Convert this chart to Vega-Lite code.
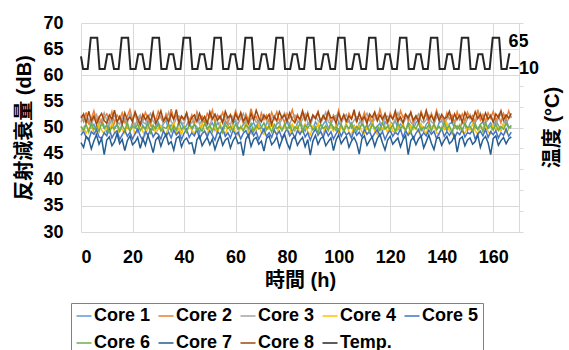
{
"$schema":"https://vega.github.io/schema/vega-lite/v6.json",
"autosize":"none",
"width":438,"height":209,
"padding":{"left":81,"top":23,"right":50,"bottom":118},
"config":{"font":"'Liberation Sans', 'Noto Sans CJK JP', sans-serif","view":{"stroke":null},"axis":{"gridColor":"#d9d9d9","gridWidth":1,"labelColor":"#000","titleColor":"#000","labelFontWeight":"bold","titleFontWeight":"bold","labelFontSize":18,"titleFontSize":20}},
"datasets":{
"cores":[
{"t":0,"a":50.1,"b":52.3,"c":51.0,"d":49.2,"e":48.5,"f":50.2,"g":47.1,"h":51.8},
{"t":1,"a":49.6,"b":51.1,"c":52.2,"d":50.1,"e":49.3,"f":49.4,"g":46.2,"h":52.6},
{"t":2,"a":50.8,"b":52.9,"c":50.7,"d":48.9,"e":48.1,"f":50.6,"g":48.3,"h":50.9},
{"t":3,"a":51.2,"b":50.8,"c":51.6,"d":49.8,"e":47.6,"f":49.1,"g":47.8,"h":53.1},
{"t":4,"a":49.9,"b":51.7,"c":50.3,"d":50.4,"e":49.2,"f":50.8,"g":45.9,"h":51.2},
{"t":5,"a":50.6,"b":53.2,"c":51.9,"d":49.0,"e":48.7,"f":49.6,"g":47.4,"h":52.2},
{"t":6,"a":49.4,"b":51.4,"c":52.5,"d":48.6,"e":49.6,"f":50.3,"g":48.6,"h":50.6},
{"t":7,"a":50.9,"b":52.1,"c":50.8,"d":50.6,"e":48.2,"f":49.2,"g":46.8,"h":51.9},
{"t":8,"a":51.5,"b":50.6,"c":51.2,"d":49.5,"e":47.9,"f":50.9,"g":47.9,"h":52.7},
{"t":9,"a":50.2,"b":51.9,"c":52.8,"d":48.8,"e":49.0,"f":49.8,"g":44.8,"h":51.3},
{"t":10,"a":49.1,"b":52.6,"c":51.4,"d":50.2,"e":48.4,"f":50.5,"g":47.6,"h":50.8},
{"t":11,"a":50.7,"b":51.3,"c":50.5,"d":49.3,"e":49.8,"f":49.0,"g":48.2,"h":52.4},
{"t":12,"a":51.4,"b":53.0,"c":51.8,"d":50.8,"e":48.0,"f":50.1,"g":46.5,"h":51.6},
{"t":13,"a":49.8,"b":50.9,"c":52.3,"d":49.1,"e":48.9,"f":49.7,"g":47.3,"h":53.3},
{"t":14,"a":50.5,"b":52.4,"c":51.1,"d":48.7,"e":49.4,"f":50.7,"g":48.8,"h":51.0},
{"t":15,"a":49.3,"b":51.6,"c":50.6,"d":50.0,"e":47.7,"f":49.3,"g":46.9,"h":52.1},
{"t":16,"a":50.8,"b":52.8,"c":52.0,"d":49.6,"e":48.6,"f":50.4,"g":47.7,"h":50.7},
{"t":17,"a":51.6,"b":51.0,"c":51.5,"d":48.9,"e":49.5,"f":49.5,"g":45.6,"h":52.8},
{"t":18,"a":50.0,"b":52.2,"c":50.9,"d":50.5,"e":48.3,"f":50.9,"g":47.5,"h":51.4},
{"t":19,"a":49.5,"b":53.4,"c":52.6,"d":49.4,"e":49.1,"f":49.2,"g":48.4,"h":52.0},
{"t":20,"a":50.9,"b":51.5,"c":51.3,"d":50.3,"e":47.8,"f":50.3,"g":46.7,"h":51.1},
{"t":21,"a":50.3,"b":52.7,"c":50.4,"d":48.8,"e":48.8,"f":49.9,"g":47.2,"h":53.0},
{"t":22,"a":49.2,"b":50.7,"c":51.7,"d":49.7,"e":49.7,"f":50.6,"g":48.1,"h":51.7},
{"t":23,"a":51.1,"b":52.0,"c":52.4,"d":50.7,"e":48.4,"f":49.4,"g":46.0,"h":50.5},
{"t":24,"a":50.4,"b":51.2,"c":51.0,"d":49.2,"e":47.5,"f":50.2,"g":47.9,"h":52.5},
{"t":25,"a":49.7,"b":52.9,"c":50.7,"d":48.5,"e":49.3,"f":49.6,"g":46.6,"h":51.5},
{"t":26,"a":51.3,"b":51.8,"c":51.9,"d":50.1,"e":48.5,"f":50.8,"g":48.5,"h":52.3},
{"t":27,"a":50.6,"b":50.5,"c":52.7,"d":49.4,"e":49.6,"f":49.0,"g":47.0,"h":51.2},
{"t":28,"a":49.5,"b":52.5,"c":51.2,"d":50.5,"e":48.2,"f":50.4,"g":45.2,"h":52.9},
{"t":29,"a":50.2,"b":51.4,"c":50.6,"d":48.9,"e":49.0,"f":49.7,"g":47.6,"h":50.8},
{"t":30,"a":51.0,"b":53.1,"c":51.6,"d":49.8,"e":48.7,"f":50.6,"g":48.2,"h":51.8},
{"t":31,"a":49.9,"b":51.9,"c":52.1,"d":50.4,"e":47.8,"f":49.3,"g":46.4,"h":53.2},
{"t":32,"a":50.7,"b":50.8,"c":50.8,"d":49.1,"e":49.4,"f":50.1,"g":47.8,"h":51.3},
{"t":33,"a":51.4,"b":52.6,"c":51.4,"d":48.6,"e":48.3,"f":49.8,"g":48.7,"h":52.0},
{"t":34,"a":49.6,"b":51.2,"c":52.9,"d":50.2,"e":49.1,"f":50.7,"g":46.8,"h":51.0},
{"t":35,"a":50.5,"b":53.5,"c":51.1,"d":49.6,"e":48.0,"f":49.2,"g":47.3,"h":52.6},
{"t":36,"a":50.0,"b":51.7,"c":50.5,"d":50.9,"e":49.5,"f":50.3,"g":45.7,"h":51.5},
{"t":37,"a":49.3,"b":52.3,"c":51.8,"d":49.0,"e":48.6,"f":49.5,"g":47.9,"h":53.4},
{"t":38,"a":51.2,"b":50.9,"c":52.2,"d":49.9,"e":49.2,"f":50.9,"g":48.3,"h":50.9},
{"t":39,"a":50.8,"b":52.0,"c":51.0,"d":48.7,"e":47.7,"f":49.6,"g":46.3,"h":52.2},
{"t":40,"a":49.8,"b":51.3,"c":50.7,"d":50.3,"e":48.9,"f":50.2,"g":47.5,"h":51.6},
{"t":41,"a":50.4,"b":52.8,"c":52.4,"d":49.3,"e":49.7,"f":49.1,"g":48.0,"h":52.8},
{"t":42,"a":51.5,"b":51.1,"c":51.3,"d":50.6,"e":48.1,"f":50.5,"g":46.9,"h":50.6},
{"t":43,"a":49.4,"b":52.4,"c":50.9,"d":49.5,"e":49.0,"f":49.9,"g":47.1,"h":51.9},
{"t":44,"a":50.6,"b":50.6,"c":51.7,"d":48.8,"e":48.4,"f":50.6,"g":44.9,"h":52.4},
{"t":45,"a":50.1,"b":53.0,"c":52.5,"d":50.0,"e":49.6,"f":49.4,"g":47.7,"h":51.1},
{"t":46,"a":49.0,"b":51.5,"c":50.6,"d":49.7,"e":47.9,"f":50.0,"g":48.4,"h":52.7},
{"t":47,"a":50.9,"b":52.2,"c":51.5,"d":50.8,"e":48.8,"f":49.3,"g":46.5,"h":51.3},
{"t":48,"a":51.3,"b":51.0,"c":52.0,"d":49.2,"e":49.3,"f":50.8,"g":47.4,"h":52.1},
{"t":49,"a":49.7,"b":52.7,"c":51.2,"d":48.6,"e":48.2,"f":49.7,"g":48.1,"h":50.7},
{"t":50,"a":50.3,"b":51.8,"c":50.4,"d":50.4,"e":49.4,"f":50.4,"g":46.7,"h":53.0},
{"t":51,"a":50.9,"b":53.3,"c":51.9,"d":49.5,"e":48.5,"f":49.2,"g":47.8,"h":51.6},
{"t":52,"a":49.5,"b":50.9,"c":52.6,"d":50.1,"e":47.6,"f":50.9,"g":45.8,"h":52.5},
{"t":53,"a":51.0,"b":52.4,"c":51.0,"d":48.9,"e":49.2,"f":49.5,"g":47.3,"h":51.4},
{"t":54,"a":50.2,"b":51.6,"c":50.8,"d":50.7,"e":48.7,"f":50.3,"g":48.5,"h":52.2},
{"t":55,"a":49.6,"b":52.9,"c":51.5,"d":49.4,"e":49.8,"f":49.0,"g":46.6,"h":50.9},
{"t":56,"a":51.2,"b":51.2,"c":52.3,"d":48.7,"e":48.3,"f":50.6,"g":47.6,"h":53.1},
{"t":57,"a":50.5,"b":50.7,"c":51.1,"d":50.2,"e":49.0,"f":49.8,"g":48.0,"h":51.8},
{"t":58,"a":49.3,"b":52.5,"c":50.5,"d":49.7,"e":48.0,"f":50.2,"g":46.1,"h":52.4},
{"t":59,"a":50.7,"b":51.4,"c":52.1,"d":50.5,"e":49.5,"f":49.4,"g":47.5,"h":51.0},
{"t":60,"a":51.4,"b":53.2,"c":51.4,"d":49.0,"e":48.6,"f":50.7,"g":48.3,"h":52.6},
{"t":61,"a":50.0,"b":51.9,"c":50.7,"d":48.5,"e":49.1,"f":49.6,"g":46.9,"h":51.5},
{"t":62,"a":49.8,"b":52.3,"c":51.8,"d":50.3,"e":47.8,"f":50.1,"g":47.2,"h":52.9},
{"t":63,"a":50.6,"b":50.8,"c":52.7,"d":49.6,"e":48.9,"f":49.3,"g":44.6,"h":51.2},
{"t":64,"a":51.1,"b":52.6,"c":51.2,"d":50.8,"e":49.4,"f":50.5,"g":47.8,"h":52.0},
{"t":65,"a":49.4,"b":51.3,"c":50.6,"d":49.2,"e":48.2,"f":49.9,"g":48.6,"h":50.8},
{"t":66,"a":50.4,"b":53.6,"c":51.6,"d":48.8,"e":49.6,"f":50.8,"g":46.4,"h":52.7},
{"t":67,"a":50.9,"b":51.7,"c":52.2,"d":50.0,"e":48.4,"f":49.2,"g":47.7,"h":51.4},
{"t":68,"a":49.7,"b":52.1,"c":51.0,"d":49.5,"e":49.2,"f":50.4,"g":48.1,"h":53.3},
{"t":69,"a":51.3,"b":50.6,"c":50.9,"d":50.6,"e":47.7,"f":49.7,"g":46.8,"h":51.9},
{"t":70,"a":50.1,"b":52.8,"c":51.7,"d":49.1,"e":48.8,"f":50.0,"g":47.4,"h":51.1},
{"t":71,"a":49.2,"b":51.5,"c":52.5,"d":48.7,"e":49.7,"f":50.9,"g":45.5,"h":52.3},
{"t":72,"a":50.8,"b":52.4,"c":51.3,"d":50.2,"e":48.3,"f":49.5,"g":47.9,"h":51.7},
{"t":73,"a":51.5,"b":51.0,"c":50.4,"d":49.7,"e":49.0,"f":50.3,"g":48.4,"h":52.5},
{"t":74,"a":50.3,"b":52.9,"c":51.8,"d":50.9,"e":48.1,"f":49.1,"g":46.7,"h":50.6},
{"t":75,"a":49.6,"b":51.6,"c":52.3,"d":49.3,"e":49.5,"f":50.6,"g":47.3,"h":52.1},
{"t":76,"a":50.7,"b":53.0,"c":51.1,"d":48.6,"e":48.6,"f":49.8,"g":48.2,"h":51.3},
{"t":77,"a":51.0,"b":51.2,"c":50.7,"d":50.4,"e":49.3,"f":50.2,"g":46.2,"h":53.0},
{"t":78,"a":49.5,"b":52.2,"c":51.6,"d":49.8,"e":47.9,"f":49.4,"g":47.6,"h":51.8},
{"t":79,"a":50.2,"b":50.9,"c":52.8,"d":50.1,"e":48.9,"f":50.7,"g":48.7,"h":52.4},
{"t":80,"a":51.2,"b":52.7,"c":51.4,"d":49.4,"e":49.8,"f":49.6,"g":47.0,"h":51.2},
{"t":81,"a":49.9,"b":51.8,"c":50.6,"d":48.9,"e":48.4,"f":50.5,"g":45.9,"h":52.8},
{"t":82,"a":50.5,"b":53.4,"c":51.9,"d":50.6,"e":49.1,"f":49.2,"g":47.8,"h":51.5},
{"t":83,"a":49.4,"b":51.4,"c":52.4,"d":49.6,"e":48.0,"f":50.1,"g":48.3,"h":50.9},
{"t":84,"a":50.9,"b":52.5,"c":51.2,"d":50.3,"e":49.4,"f":49.7,"g":46.6,"h":52.2},
{"t":85,"a":51.4,"b":51.1,"c":50.8,"d":48.8,"e":48.7,"f":50.8,"g":47.5,"h":51.6},
{"t":86,"a":50.0,"b":52.6,"c":51.5,"d":49.9,"e":49.6,"f":49.3,"g":48.1,"h":53.2},
{"t":87,"a":49.3,"b":51.5,"c":52.6,"d":50.7,"e":48.2,"f":50.4,"g":46.3,"h":51.4},
{"t":88,"a":50.8,"b":52.9,"c":51.0,"d":49.2,"e":49.0,"f":49.9,"g":47.7,"h":52.6},
{"t":89,"a":50.4,"b":50.7,"c":50.5,"d":48.6,"e":47.6,"f":50.6,"g":44.7,"h":51.0},
{"t":90,"a":49.7,"b":52.3,"c":51.8,"d":50.2,"e":48.9,"f":49.5,"g":47.4,"h":52.4},
{"t":91,"a":51.1,"b":51.9,"c":52.2,"d":49.5,"e":49.7,"f":50.2,"g":48.5,"h":51.7},
{"t":92,"a":50.2,"b":53.1,"c":51.3,"d":50.8,"e":48.5,"f":49.0,"g":46.8,"h":52.9},
{"t":93,"a":49.5,"b":51.2,"c":50.9,"d":49.0,"e":49.3,"f":50.7,"g":47.9,"h":51.1},
{"t":94,"a":50.6,"b":52.0,"c":51.7,"d":48.7,"e":48.1,"f":49.8,"g":48.2,"h":52.3},
{"t":95,"a":51.3,"b":51.4,"c":52.9,"d":50.4,"e":49.5,"f":50.3,"g":46.5,"h":51.5},
{"t":96,"a":49.8,"b":52.8,"c":51.1,"d":49.7,"e":48.4,"f":49.4,"g":47.3,"h":53.1},
{"t":97,"a":50.7,"b":50.8,"c":50.7,"d":50.1,"e":49.2,"f":50.9,"g":48.0,"h":51.8},
{"t":98,"a":50.1,"b":52.4,"c":51.6,"d":49.3,"e":47.8,"f":49.7,"g":45.6,"h":52.0},
{"t":99,"a":49.4,"b":51.6,"c":52.3,"d":50.6,"e":48.8,"f":50.1,"g":47.6,"h":50.8},
{"t":100,"a":51.0,"b":53.3,"c":51.2,"d":48.9,"e":49.6,"f":49.5,"g":48.6,"h":52.7},
{"t":101,"a":50.3,"b":51.3,"c":50.8,"d":50.0,"e":48.3,"f":50.6,"g":46.9,"h":51.3},
{"t":102,"a":49.6,"b":52.2,"c":51.9,"d":49.5,"e":49.4,"f":49.2,"g":47.7,"h":52.5},
{"t":103,"a":50.8,"b":50.9,"c":52.5,"d":50.7,"e":48.6,"f":50.4,"g":48.3,"h":51.2},
{"t":104,"a":51.5,"b":52.7,"c":51.0,"d":49.1,"e":49.0,"f":49.8,"g":46.2,"h":52.2},
{"t":105,"a":49.9,"b":51.7,"c":50.6,"d":48.6,"e":47.9,"f":50.8,"g":47.4,"h":51.6},
{"t":106,"a":50.4,"b":53.0,"c":51.4,"d":50.3,"e":49.5,"f":49.3,"g":48.1,"h":53.4},
{"t":107,"a":49.2,"b":51.1,"c":52.1,"d":49.8,"e":48.5,"f":50.2,"g":47.0,"h":51.0},
{"t":108,"a":50.9,"b":52.5,"c":51.7,"d":50.5,"e":49.1,"f":49.6,"g":44.9,"h":52.8},
{"t":109,"a":51.2,"b":51.5,"c":50.5,"d":49.2,"e":48.2,"f":50.7,"g":47.8,"h":51.4},
{"t":110,"a":50.0,"b":52.9,"c":51.8,"d":48.8,"e":49.7,"f":49.9,"g":48.4,"h":52.1},
{"t":111,"a":49.7,"b":51.2,"c":52.7,"d":50.2,"e":48.7,"f":50.4,"g":46.6,"h":50.7},
{"t":112,"a":50.5,"b":52.3,"c":51.3,"d":49.6,"e":49.3,"f":49.1,"g":47.5,"h":52.6},
{"t":113,"a":51.3,"b":50.8,"c":50.9,"d":50.9,"e":48.0,"f":50.6,"g":48.2,"h":51.9},
{"t":114,"a":49.5,"b":52.6,"c":51.5,"d":49.4,"e":48.9,"f":49.8,"g":46.4,"h":53.0},
{"t":115,"a":50.2,"b":51.4,"c":52.4,"d":48.7,"e":49.6,"f":50.3,"g":47.9,"h":51.3},
{"t":116,"a":50.8,"b":53.5,"c":51.1,"d":50.1,"e":48.4,"f":49.4,"g":48.7,"h":52.4},
{"t":117,"a":49.3,"b":51.8,"c":50.7,"d":49.7,"e":49.2,"f":50.9,"g":47.1,"h":51.5},
{"t":118,"a":51.1,"b":52.1,"c":51.9,"d":50.4,"e":47.7,"f":49.7,"g":45.7,"h":52.7},
{"t":119,"a":50.6,"b":50.7,"c":52.2,"d":49.0,"e":48.8,"f":50.2,"g":47.6,"h":51.1},
{"t":120,"a":49.8,"b":52.8,"c":51.2,"d":50.6,"e":49.5,"f":49.6,"g":48.3,"h":52.3},
{"t":121,"a":50.4,"b":51.6,"c":50.6,"d":49.3,"e":48.3,"f":50.5,"g":46.8,"h":51.6},
{"t":122,"a":51.4,"b":52.4,"c":51.6,"d":48.9,"e":49.1,"f":49.2,"g":47.4,"h":53.2},
{"t":123,"a":49.6,"b":51.0,"c":52.8,"d":50.2,"e":48.6,"f":50.8,"g":48.0,"h":51.2},
{"t":124,"a":50.7,"b":53.2,"c":51.4,"d":49.5,"e":49.7,"f":49.9,"g":46.3,"h":52.0},
{"t":125,"a":50.1,"b":51.9,"c":50.8,"d":50.8,"e":48.1,"f":50.3,"g":47.7,"h":50.9},
{"t":126,"a":49.4,"b":52.6,"c":51.7,"d":49.1,"e":49.4,"f":49.5,"g":48.5,"h":52.5},
{"t":127,"a":51.0,"b":51.3,"c":52.3,"d":48.6,"e":48.5,"f":50.6,"g":44.8,"h":51.8},
{"t":128,"a":50.3,"b":52.9,"c":51.0,"d":50.4,"e":49.2,"f":49.0,"g":47.5,"h":52.9},
{"t":129,"a":49.7,"b":50.6,"c":50.5,"d":49.7,"e":47.8,"f":50.4,"g":48.2,"h":51.4},
{"t":130,"a":50.9,"b":52.2,"c":51.8,"d":50.0,"e":48.9,"f":49.7,"g":46.7,"h":52.2},
{"t":131,"a":51.5,"b":51.5,"c":52.6,"d":49.2,"e":49.6,"f":50.9,"g":47.8,"h":51.0},
{"t":132,"a":50.0,"b":53.1,"c":51.3,"d":50.7,"e":48.2,"f":49.4,"g":48.4,"h":52.7},
{"t":133,"a":49.2,"b":51.7,"c":50.9,"d":49.5,"e":49.0,"f":50.1,"g":46.1,"h":51.5},
{"t":134,"a":50.6,"b":52.5,"c":51.5,"d":48.8,"e":48.4,"f":49.8,"g":47.3,"h":53.3},
{"t":135,"a":51.2,"b":50.9,"c":52.4,"d":50.3,"e":49.5,"f":50.5,"g":48.6,"h":51.6},
{"t":136,"a":49.8,"b":52.7,"c":51.1,"d":49.8,"e":48.7,"f":49.3,"g":47.0,"h":52.3},
{"t":137,"a":50.5,"b":51.4,"c":50.7,"d":50.5,"e":49.3,"f":50.7,"g":45.8,"h":51.2},
{"t":138,"a":49.5,"b":53.3,"c":51.9,"d":49.0,"e":47.9,"f":49.6,"g":47.9,"h":52.8},
{"t":139,"a":50.9,"b":51.8,"c":52.5,"d":48.6,"e":48.9,"f":50.2,"g":48.1,"h":51.3},
{"t":140,"a":51.3,"b":52.0,"c":51.2,"d":50.2,"e":49.8,"f":49.5,"g":46.6,"h":52.5},
{"t":141,"a":50.1,"b":51.1,"c":50.6,"d":49.6,"e":48.3,"f":50.9,"g":47.6,"h":51.7},
{"t":142,"a":49.4,"b":52.8,"c":51.6,"d":50.9,"e":49.2,"f":49.8,"g":48.3,"h":52.0},
{"t":143,"a":50.7,"b":51.6,"c":52.7,"d":49.3,"e":48.5,"f":50.3,"g":46.9,"h":53.1},
{"t":144,"a":51.0,"b":52.4,"c":51.4,"d":48.7,"e":49.4,"f":49.1,"g":47.4,"h":51.1},
{"t":145,"a":49.9,"b":50.8,"c":50.8,"d":50.4,"e":48.0,"f":50.6,"g":48.5,"h":52.6},
{"t":146,"a":50.3,"b":53.0,"c":51.8,"d":49.7,"e":49.1,"f":49.7,"g":45.3,"h":51.5},
{"t":147,"a":49.6,"b":51.5,"c":52.2,"d":50.6,"e":48.6,"f":50.4,"g":47.8,"h":52.4},
{"t":148,"a":51.2,"b":52.6,"c":51.0,"d":49.1,"e":49.7,"f":49.4,"g":48.2,"h":51.0},
{"t":149,"a":50.5,"b":51.2,"c":50.5,"d":48.9,"e":48.2,"f":50.8,"g":46.5,"h":52.9},
{"t":150,"a":49.3,"b":52.9,"c":51.7,"d":50.1,"e":49.0,"f":49.9,"g":47.6,"h":51.8},
{"t":151,"a":50.8,"b":51.7,"c":52.5,"d":49.6,"e":48.8,"f":50.2,"g":48.0,"h":52.2},
{"t":152,"a":51.4,"b":52.3,"c":51.3,"d":50.7,"e":49.5,"f":49.3,"g":46.8,"h":51.4},
{"t":153,"a":50.0,"b":50.9,"c":50.9,"d":49.4,"e":47.8,"f":50.7,"g":47.3,"h":53.0},
{"t":154,"a":49.7,"b":53.4,"c":51.9,"d":48.7,"e":48.7,"f":49.6,"g":48.6,"h":51.7},
{"t":155,"a":50.6,"b":51.4,"c":52.8,"d":50.3,"e":49.3,"f":50.5,"g":46.2,"h":52.5},
{"t":156,"a":51.1,"b":52.5,"c":51.2,"d":49.9,"e":48.4,"f":49.2,"g":47.7,"h":51.2},
{"t":157,"a":49.5,"b":51.1,"c":50.7,"d":50.5,"e":49.6,"f":50.9,"g":48.3,"h":52.8},
{"t":158,"a":50.2,"b":52.8,"c":51.6,"d":49.2,"e":48.1,"f":49.8,"g":47.1,"h":51.6},
{"t":159,"a":50.9,"b":51.8,"c":52.4,"d":48.8,"e":49.2,"f":50.3,"g":44.8,"h":52.3},
{"t":160,"a":49.8,"b":53.1,"c":51.1,"d":50.6,"e":48.6,"f":49.5,"g":47.9,"h":51.0},
{"t":161,"a":51.3,"b":51.3,"c":50.6,"d":49.5,"e":49.4,"f":50.6,"g":48.4,"h":52.6},
{"t":162,"a":50.4,"b":52.4,"c":51.8,"d":50.0,"e":48.0,"f":49.4,"g":46.6,"h":51.9},
{"t":163,"a":49.6,"b":50.9,"c":52.6,"d":49.3,"e":49.0,"f":50.2,"g":47.5,"h":53.2},
{"t":164,"a":50.7,"b":52.7,"c":51.3,"d":50.8,"e":48.5,"f":49.7,"g":48.1,"h":51.4},
{"t":165,"a":51.5,"b":51.6,"c":50.8,"d":49.0,"e":49.7,"f":50.8,"g":46.9,"h":52.4},
{"t":166,"a":50.1,"b":53.2,"c":51.7,"d":49.7,"e":48.3,"f":49.9,"g":47.8,"h":51.8},
{"t":167,"a":49.9,"b":51.8,"c":52.3,"d":50.4,"e":49.1,"f":50.4,"g":48.2,"h":52.7}
],
"temp":[
{"t":0,"T":20},
{"t":0.8,"T":-10},{"t":2.6,"T":-10},{"t":3.8,"T":65},{"t":6.3,"T":65},{"t":7.2,"T":-10},{"t":9.2,"T":-10},{"t":10.2,"T":25},{"t":11.8,"T":25},
{"t":12.8,"T":-10},{"t":14.6,"T":-10},{"t":15.8,"T":65},{"t":18.3,"T":65},{"t":19.2,"T":-10},{"t":21.2,"T":-10},{"t":22.2,"T":25},{"t":23.8,"T":25},
{"t":24.8,"T":-10},{"t":26.6,"T":-10},{"t":27.8,"T":65},{"t":30.3,"T":65},{"t":31.2,"T":-10},{"t":33.2,"T":-10},{"t":34.2,"T":25},{"t":35.8,"T":25},
{"t":36.8,"T":-10},{"t":38.6,"T":-10},{"t":39.8,"T":65},{"t":42.3,"T":65},{"t":43.2,"T":-10},{"t":45.2,"T":-10},{"t":46.2,"T":25},{"t":47.8,"T":25},
{"t":48.8,"T":-10},{"t":50.6,"T":-10},{"t":51.8,"T":65},{"t":54.3,"T":65},{"t":55.2,"T":-10},{"t":57.2,"T":-10},{"t":58.2,"T":25},{"t":59.8,"T":25},
{"t":60.8,"T":-10},{"t":62.6,"T":-10},{"t":63.8,"T":65},{"t":66.3,"T":65},{"t":67.2,"T":-10},{"t":69.2,"T":-10},{"t":70.2,"T":25},{"t":71.8,"T":25},
{"t":72.8,"T":-10},{"t":74.6,"T":-10},{"t":75.8,"T":65},{"t":78.3,"T":65},{"t":79.2,"T":-10},{"t":81.2,"T":-10},{"t":82.2,"T":25},{"t":83.8,"T":25},
{"t":84.8,"T":-10},{"t":86.6,"T":-10},{"t":87.8,"T":65},{"t":90.3,"T":65},{"t":91.2,"T":-10},{"t":93.2,"T":-10},{"t":94.2,"T":25},{"t":95.8,"T":25},
{"t":96.8,"T":-10},{"t":98.6,"T":-10},{"t":99.8,"T":65},{"t":102.3,"T":65},{"t":103.2,"T":-10},{"t":105.2,"T":-10},{"t":106.2,"T":25},{"t":107.8,"T":25},
{"t":108.8,"T":-10},{"t":110.6,"T":-10},{"t":111.8,"T":65},{"t":114.3,"T":65},{"t":115.2,"T":-10},{"t":117.2,"T":-10},{"t":118.2,"T":25},{"t":119.8,"T":25},
{"t":120.8,"T":-10},{"t":122.6,"T":-10},{"t":123.8,"T":65},{"t":126.3,"T":65},{"t":127.2,"T":-10},{"t":129.2,"T":-10},{"t":130.2,"T":25},{"t":131.8,"T":25},
{"t":132.8,"T":-10},{"t":134.6,"T":-10},{"t":135.8,"T":65},{"t":138.3,"T":65},{"t":139.2,"T":-10},{"t":141.2,"T":-10},{"t":142.2,"T":25},{"t":143.8,"T":25},
{"t":144.8,"T":-10},{"t":146.6,"T":-10},{"t":147.8,"T":65},{"t":150.3,"T":65},{"t":151.2,"T":-10},{"t":153.2,"T":-10},{"t":154.2,"T":25},{"t":155.8,"T":25},
{"t":156.8,"T":-10},{"t":158.6,"T":-10},{"t":159.8,"T":65},{"t":162.3,"T":65},{"t":163.2,"T":-10},{"t":165.2,"T":-10},{"t":166.2,"T":25},{"t":166.6,"T":25}
]
},
"encoding":{
"x":{"field":"t","type":"quantitative","scale":{"domain":[0,170],"nice":false},"axis":{"values":[0,20,40,60,80,100,120,140,160],"domain":false,"ticks":false,"tickSize":0,"labelPadding":16,"title":"時間 (h)","titlePadding":4,"grid":true}}
},
"layer":[
{"data":{"name":"cores"},
"transform":[{"fold":["a","b","c","d","e","f","g","h"],"as":["s","v"]}],
"mark":{"type":"line","strokeWidth":1.5,"interpolate":"linear"},
"encoding":{
"y":{"field":"v","type":"quantitative","scale":{"domain":[30,70],"nice":false,"zero":false},"axis":{"values":[30,35,40,45,50,55,60,65,70],"domain":false,"ticks":false,"tickSize":0,"labelPadding":18,"title":"反射減衰量 (dB)","titlePadding":8,"grid":true}},
"color":{"field":"s","type":"nominal","scale":{"domain":["a","b","c","d","e","f","g","h","T"],"range":["#5B9BD5","#ED7D31","#A5A5A5","#FFC000","#4472C4","#70AD47","#255E91","#9E480E","#262626"]},
"legend":{"orient":"none","legendX":-10,"legendY":280,"direction":"horizontal","columns":5,"title":null,"symbolType":"stroke","symbolSize":225,"symbolStrokeWidth":1.5,"labelFontSize":18,"labelFontWeight":"bold","labelColor":"#000","labelOffset":1,"columnPadding":4,"rowPadding":9,"padding":4,"strokeColor":"#808080","labelExpr":"['Core 1','Core 2','Core 3','Core 4','Core 5','Core 6','Core 7','Core 8','Temp.'][indexof(['a','b','c','d','e','f','g','h','T'],datum.value)]"}},
"detail":{"field":"s"}
}},
{"data":{"name":"temp"},
"transform":[{"fold":["T"],"as":["s","v"]}],
"mark":{"type":"line","strokeWidth":2},
"encoding":{
"y":{"field":"v","type":"quantitative","scale":{"domain":[-400,100],"nice":false,"zero":false},"axis":{"orient":"right","values":[-400,-350,-300,-250,-200,-150,-100,-50,0,50,100,-10,65],"labelExpr":"datum.value===65||datum.value===-10?datum.label:''","labelOverlap":false,"labelBound":false,"labelFlush":false,"grid":false,"domain":true,"domainColor":"#d9d9d9","ticks":true,"tickSize":4,"tickColor":{"condition":{"test":"datum.value===65||datum.value===-10","value":"transparent"},"value":"#d9d9d9"},"labelPadding":-15,"labelOffset":{"condition":{"test":"datum.value===65","value":4},"value":0},"title":"温度 (°C)","titleAngle":-90,"titleX":33,"titleY":104,"titleAlign":"center","titleBaseline":"middle"}},
"color":{"field":"s","type":"nominal","scale":{"domain":["a","b","c","d","e","f","g","h","T"],"range":["#5B9BD5","#ED7D31","#A5A5A5","#FFC000","#4472C4","#70AD47","#255E91","#9E480E","#262626"]}}
}}
],
"resolve":{"scale":{"y":"independent","color":"shared"}}
}
